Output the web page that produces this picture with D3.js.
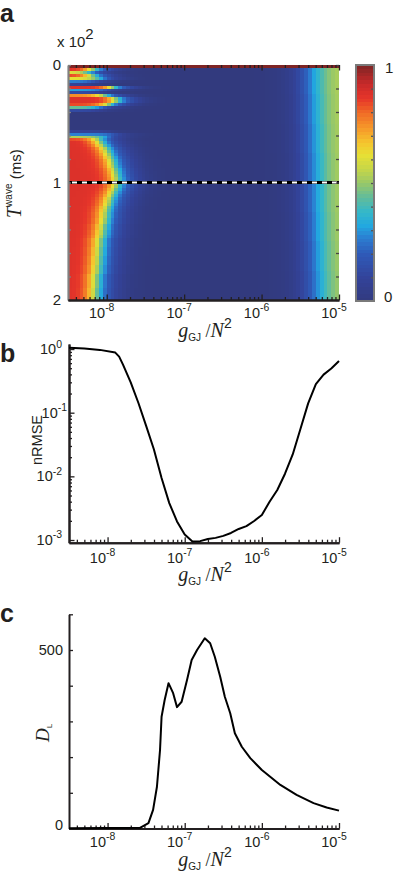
<!DOCTYPE html>
<html>
<head>
<meta charset="utf-8">
<script src="https://cdn.jsdelivr.net/npm/d3@7"></script>
<style>
  body { margin: 0; background: #fff; }
  text { font-family: "Liberation Sans", Arial, Helvetica, sans-serif; fill: #231f20; }
  .it { font-family: "Liberation Serif", "Times New Roman", serif; font-style: italic; }
  .rm { font-family: "Liberation Serif", "Times New Roman", serif; }
</style>
</head>
<body>
<div id="chart"></div>
<script>
const width = 394;
const height = 874;
const ink = "#231f20";

// ---- panel a: heat map, rows of T^wave (x10^2 ms), 0.025 apart ----
const tRows = d3.range(80).map((i) => i * 0.025);
const gCols = d3.range(70).map((k) => -8.5 + k * 0.05); // log10 g, left edge of column
// peak of the low-coupling patch in each row
const leftPeak = [
  1.0, 0.88, 0.62, 0.85, 0.62, 0.27, 0.09, 0.88, 0.31, 0.13,
  0.75, 0.88, 0.88, 0.84, 0.45, 0.13, 0, 0, 0, 0,
  0, 0, 0.09, 0.27, 0.53, 0.84, 0.88, 0.88, 0.88, 0.88,
  0.88, 0.88, 0.88, 0.88, 0.88, 0.88, 0.88, 0.88, 0.88, 0.88,
  0.88, 0.88, 0.88, 0.88, 0.88, 0.88, 0.88, 0.88, 0.88, 0.88,
  0.88, 0.88, 0.88, 0.88, 0.88, 0.88, 0.88, 0.88, 0.88, 0.88,
  0.88, 0.88, 0.88, 0.88, 0.88, 0.88, 0.88, 0.88, 0.88, 0.88,
  0.88, 0.88, 0.88, 0.88, 0.88, 0.88, 0.88, 0.88, 0.88, 0.88,
];
// log10 g where that patch has fallen to half
const leftEdge = [
  -4.5, -8.18, -8.22, -8.19, -8.09, -8.15, -8.22, -7.93, -8.02, -8.09,
  -8.02, -7.89, -7.88, -7.98, -8.09, -8.09, -8.5, -8.5, -8.5, -8.5,
  -8.5, -8.5, -7.96, -7.89, -8.02, -8.11, -8.09, -8.06, -8.02, -8.0,
  -7.98, -7.96, -7.94, -7.93, -7.92, -7.9, -7.89, -7.88, -7.87, -7.87,
  -7.87, -7.88, -7.9, -7.92, -7.94, -7.96, -7.97, -7.98, -8.0, -8.01,
  -8.02, -8.02, -8.03, -8.03, -8.05, -8.05, -8.06, -8.06, -8.07, -8.09,
  -8.09, -8.09, -8.1, -8.1, -8.1, -8.11, -8.11, -8.11, -8.12, -8.12,
  -8.12, -8.14, -8.14, -8.14, -8.14, -8.14, -8.15, -8.15, -8.15, -8.15,
];
// log10 g where the high-coupling band reaches half, one value per 10 rows
const rightEdge = [-5.36, -5.35, -5.34, -5.33, -5.32, -5.31, -5.3, -5.29];
const rightLevel = 0.56;

const colorStops = [0, 0.1, 0.2, 0.27, 0.32, 0.38, 0.44, 0.5, 0.56, 0.62, 0.67, 0.73, 0.8, 0.86, 0.92, 1];
const colorHex = ["#323a7e", "#33439a", "#2f5ab8", "#2b7fd2", "#22a8e0", "#35b8c8", "#62bc9a", "#98c868",
  "#c6d648", "#e6e035", "#f5c62e", "#f69a2a", "#f06a26", "#e6352a", "#c82a2a", "#7e2525"];

// ---- panel b: nRMSE against g_GJ/N^2 ----
const gB = [-8.5, -8.3, -8.1, -7.9, -7.85, -7.8, -7.7, -7.6, -7.5, -7.4,
  -7.3, -7.2, -7.1, -7.0, -6.9, -6.8, -6.7, -6.6, -6.5, -6.4,
  -6.3, -6.2, -6.1, -6.0, -5.9, -5.8, -5.7, -5.6, -5.5, -5.4,
  -5.3, -5.2, -5.1, -5.0];
const nrmse = [1.05, 1.02, 0.97, 0.88, 0.76, 0.57, 0.3, 0.142, 0.062, 0.0266,
  0.0094, 0.0038, 0.00196, 0.00122, 0.00095, 0.00096, 0.00104, 0.00108, 0.00116, 0.00129,
  0.00149, 0.00165, 0.00199, 0.00247, 0.004, 0.0061, 0.011, 0.0221, 0.0554, 0.14,
  0.282, 0.396, 0.494, 0.648];

// ---- panel c: D_L against g_GJ/N^2 ----
const gC = [-8.5, -7.58, -7.47, -7.41, -7.36, -7.32, -7.3, -7.26, -7.21, -7.15,
  -7.1, -7.04, -6.97, -6.91, -6.84, -6.74, -6.67, -6.61, -6.54, -6.48,
  -6.41, -6.35, -6.26, -6.15, -6.0, -5.76, -5.55, -5.33, -5.16, -5.0];
const dL = [1, 2, 15, 52, 117, 220, 313, 360, 407, 379,
  340, 355, 416, 472, 500, 533, 519, 481, 425, 369,
  323, 267, 229, 197, 164, 122, 94, 71, 59, 50];

const majorG = [1e-8, 1e-7, 1e-6, 1e-5];
const minorG = [];
[-9, -8, -7, -6].forEach((e) =>
  d3.range(2, 10).forEach((k) => {
    const v = k * 10 ** e;
    if (v > 10 ** -8.5 && v < 1e-5) minorG.push(v);
  })
);

const svg = d3
  .select("#chart")
  .append("svg")
  .attr("width", width)
  .attr("height", height);

const color = d3.scaleLinear().domain(colorStops).range(colorHex).clamp(true);

function cellValue(i, lg) {
  const e = leftEdge[i];
  const front =
    0.82 / (1 + Math.exp((lg - e) / 0.07)) +
    0.18 / (1 + Math.exp((lg - e - 0.3) / 0.1));
  const back = rightLevel / (1 + Math.exp(-(lg - rightEdge[Math.floor(i / 10)]) / 0.13));
  return Math.min(1, leftPeak[i] * front + back);
}

function styleAxis(g, col, w) {
  g.selectAll("line").attr("stroke", col).attr("stroke-width", 1.3);
  g.selectAll("path").attr("stroke", col).attr("stroke-width", w);
}

function powLabel(x, y, exp, anchor, size) {
  const t = svg
    .append("text")
    .attr("x", x)
    .attr("y", y)
    .attr("text-anchor", anchor)
    .style("font-size", size + "px");
  t.append("tspan").text("10");
  t.append("tspan").attr("dy", -size * 0.45).style("font-size", size * 0.72 + "px").text(exp);
}

function logXAxis(x, y0, dir, withDomain) {
  const gm = svg
    .append("g")
    .attr("transform", `translate(0,${y0})`)
    .call(d3.axisBottom(x).tickValues(minorG).tickSize(dir * 3).tickSizeOuter(0).tickFormat(""));
  const gM = svg
    .append("g")
    .attr("transform", `translate(0,${y0})`)
    .call(d3.axisBottom(x).tickValues(majorG).tickSize(dir * 5.5).tickSizeOuter(0).tickFormat(""));
  styleAxis(gm, ink, 2);
  styleAxis(gM, ink, 2);
  if (!withDomain) {
    gm.select(".domain").remove();
    gM.select(".domain").remove();
  }
}

function xLabels(x, y) {
  majorG.forEach((v) => powLabel(x(v) - 5, y, "-" + -Math.round(Math.log10(v)), "middle", 14.5));
}

function gLabel(cx, y) {
  const t = svg.append("text").attr("x", cx).attr("y", y).attr("text-anchor", "middle");
  t.append("tspan").attr("class", "it").style("font-size", "20px").text("g");
  t.append("tspan").style("font-size", "10px").attr("dy", 4).text("GJ");
  t.append("tspan").attr("class", "rm").style("font-size", "18px").attr("dy", -4).text(" /");
  t.append("tspan").attr("class", "it").style("font-size", "20px").text("N");
  t.append("tspan").style("font-size", "14px").attr("dy", -9).text("2");
}

function panelLetter(s, y) {
  svg
    .append("text")
    .attr("x", 0)
    .attr("y", y)
    .style("font-size", "25px")
    .style("font-weight", "bold")
    .text(s);
}

// ================= panel a =================
const xA = d3.scaleLog().domain([10 ** -8.5, 1e-5]).range([68, 339]);
const yA = d3.scaleLinear().domain([0, 2]).range([65, 300]);

const cells = [];
tRows.forEach((t, i) =>
  gCols.forEach((lg) => cells.push({ t, lg, v: cellValue(i, lg + 0.025) }))
);

svg
  .append("g")
  .selectAll("rect")
  .data(cells)
  .join("rect")
  .attr("x", (d) => xA(10 ** d.lg))
  .attr("y", (d) => yA(d.t))
  .attr("width", (d) => xA(10 ** (d.lg + 0.05)) - xA(10 ** d.lg) + 0.4)
  .attr("height", yA(0.025) - yA(0) + 0.4)
  .attr("fill", (d) => color(d.v))
  .attr("shape-rendering", "crispEdges");

// dashed line at T = 1
svg
  .append("line")
  .attr("x1", xA.range()[0])
  .attr("x2", xA.range()[1])
  .attr("y1", yA(1))
  .attr("y2", yA(1))
  .attr("stroke", "#000")
  .attr("stroke-width", 3);
svg
  .append("line")
  .attr("x1", xA.range()[0] + 4)
  .attr("x2", xA.range()[1])
  .attr("y1", yA(1))
  .attr("y2", yA(1))
  .attr("stroke", "#fff")
  .attr("stroke-width", 2)
  .attr("stroke-dasharray", "5 5");

// axes of the heat map
const tTicks = d3.range(11).map((k) => k * 0.2);
const leftA = svg
  .append("g")
  .attr("transform", `translate(${xA.range()[0]},0)`)
  .call(d3.axisLeft(yA).tickValues(tTicks).tickSize(-3).tickSizeOuter(0).tickFormat(""));
styleAxis(leftA, "#808080", 2.2);
const rightA = svg
  .append("g")
  .attr("transform", `translate(${xA.range()[1]},0)`)
  .call(d3.axisRight(yA).tickValues(tTicks).tickSize(-3).tickSizeOuter(0).tickFormat(""));
styleAxis(rightA, "#444", 1);
rightA.select(".domain").remove();

logXAxis(xA, 300, -1, true);
logXAxis(xA, 65, 1, false);
xLabels(xA, 318);

[0, 1, 2].forEach((v) =>
  svg
    .append("text")
    .attr("x", 61)
    .attr("y", yA(v) + 5)
    .attr("text-anchor", "end")
    .style("font-size", "15px")
    .text(v)
);

const x102 = svg.append("text").attr("x", 57).attr("y", 47).style("font-size", "15px");
x102.append("tspan").text("x 10");
x102.append("tspan").attr("dy", -8).text("2");

const tLab = svg
  .append("text")
  .attr("transform", "translate(21,218) rotate(-90)")
  .attr("text-anchor", "start");
tLab.append("tspan").attr("class", "it").style("font-size", "20px").text("T");
tLab.append("tspan").style("font-size", "10px").attr("dy", -9).text("wave");
tLab.append("tspan").style("font-size", "15px").attr("dy", 9).text(" (ms)");

gLabel(205, 337);

// colour bar
const yCb = d3.scaleLinear().domain([0, 1]).range([301, 65]);
const cbLevels = d3.range(64).map((k) => k / 64);
svg
  .append("g")
  .selectAll("rect")
  .data(cbLevels)
  .join("rect")
  .attr("x", 356)
  .attr("y", (d) => yCb(d + 1 / 64))
  .attr("width", 18)
  .attr("height", yCb(0) - yCb(1 / 64) + 0.4)
  .attr("fill", (d) => color(d + 1 / 128))
  .attr("shape-rendering", "crispEdges");
const cbAxis = svg
  .append("g")
  .attr("transform", "translate(374,0)")
  .call(d3.axisRight(yCb).tickValues(d3.range(1, 10).map((k) => k / 10)).tickSize(-3).tickSizeOuter(0).tickFormat(""));
styleAxis(cbAxis, "#555", 0);
cbAxis.select(".domain").remove();
svg
  .append("rect")
  .attr("x", 356)
  .attr("y", 65)
  .attr("width", 18)
  .attr("height", 236)
  .attr("fill", "none")
  .attr("stroke", "#7a7a7a")
  .attr("stroke-width", 2);
svg.append("text").attr("x", 385).attr("y", 73).style("font-size", "15px").text("1");
svg.append("text").attr("x", 384).attr("y", 302).style("font-size", "15px").text("0");

panelLetter("a", 22);

// ================= panel b =================
const xB = d3.scaleLog().domain([10 ** -8.5, 1e-5]).range([69, 339]);
const yB = d3.scaleLog().domain([9.07e-4, 1.2]).range([542.7, 344]);

const minorB = [];
[-4, -3, -2, -1, 0].forEach((e) =>
  d3.range(2, 10).forEach((k) => {
    const v = k * 10 ** e;
    if (v > yB.domain()[0] && v < yB.domain()[1]) minorB.push(v);
  })
);
const majorB = [1e-3, 1e-2, 1e-1, 1];

const lbm = svg
  .append("g")
  .attr("transform", "translate(69,0)")
  .call(d3.axisLeft(yB).tickValues(minorB).tickSize(-3).tickSizeOuter(0).tickFormat(""));
const lbM = svg
  .append("g")
  .attr("transform", "translate(69,0)")
  .call(d3.axisLeft(yB).tickValues(majorB).tickSize(-5.5).tickSizeOuter(0).tickFormat(""));
styleAxis(lbm, ink, 2);
styleAxis(lbM, ink, 2);
// the 10^-1 label sits a little to the right, clear of the axis title
majorB.forEach((v) =>
  powLabel(v === 0.1 ? 67 : 62, yB(v) + 5, String(Math.round(Math.log10(v))), "end", 14.5)
);

logXAxis(xB, 542.7, -1, true);
xLabels(xB, 563);
gLabel(205, 581);

svg
  .append("text")
  .attr("transform", "translate(42,440) rotate(-90)")
  .attr("text-anchor", "middle")
  .style("font-size", "14.5px")
  .text("nRMSE");

svg
  .append("path")
  .datum(d3.zip(gB, nrmse))
  .attr("fill", "none")
  .attr("stroke", "#000")
  .attr("stroke-width", 2)
  .attr("stroke-linejoin", "round")
  .attr("d", d3.line().x((d) => xB(10 ** d[0])).y((d) => yB(d[1])));

panelLetter("b", 362);

// ================= panel c =================
const xC = d3.scaleLog().domain([10 ** -8.5, 1e-5]).range([69, 339]);
const yC = d3.scaleLinear().domain([0, 600]).range([828.5, 614.3]);

const lc = svg
  .append("g")
  .attr("transform", "translate(69,0)")
  .call(d3.axisLeft(yC).tickValues(d3.range(0, 601, 100)).tickSize(-4).tickSizeOuter(0).tickFormat(""));
styleAxis(lc, ink, 2);
[0, 500].forEach((v) =>
  svg
    .append("text")
    .attr("x", 63)
    .attr("y", yC(v) + (v === 0 ? 1 : 5))
    .attr("text-anchor", "end")
    .style("font-size", "14.5px")
    .text(v)
);

logXAxis(xC, 828.5, -1, true);
xLabels(xC, 847);
gLabel(205, 866);

const dLab = svg
  .append("text")
  .attr("transform", "translate(49,733) rotate(-90)")
  .attr("text-anchor", "middle");
dLab.append("tspan").attr("class", "it").style("font-size", "19px").text("D");
dLab.append("tspan").style("font-size", "8px").attr("dy", 3).text("L");

svg
  .append("path")
  .datum(d3.zip(gC, dL))
  .attr("fill", "none")
  .attr("stroke", "#000")
  .attr("stroke-width", 2)
  .attr("stroke-linejoin", "round")
  .attr("d", d3.line().x((d) => xC(10 ** d[0])).y((d) => yC(d[1])));

panelLetter("c", 622);
</script>
</body>
</html>
